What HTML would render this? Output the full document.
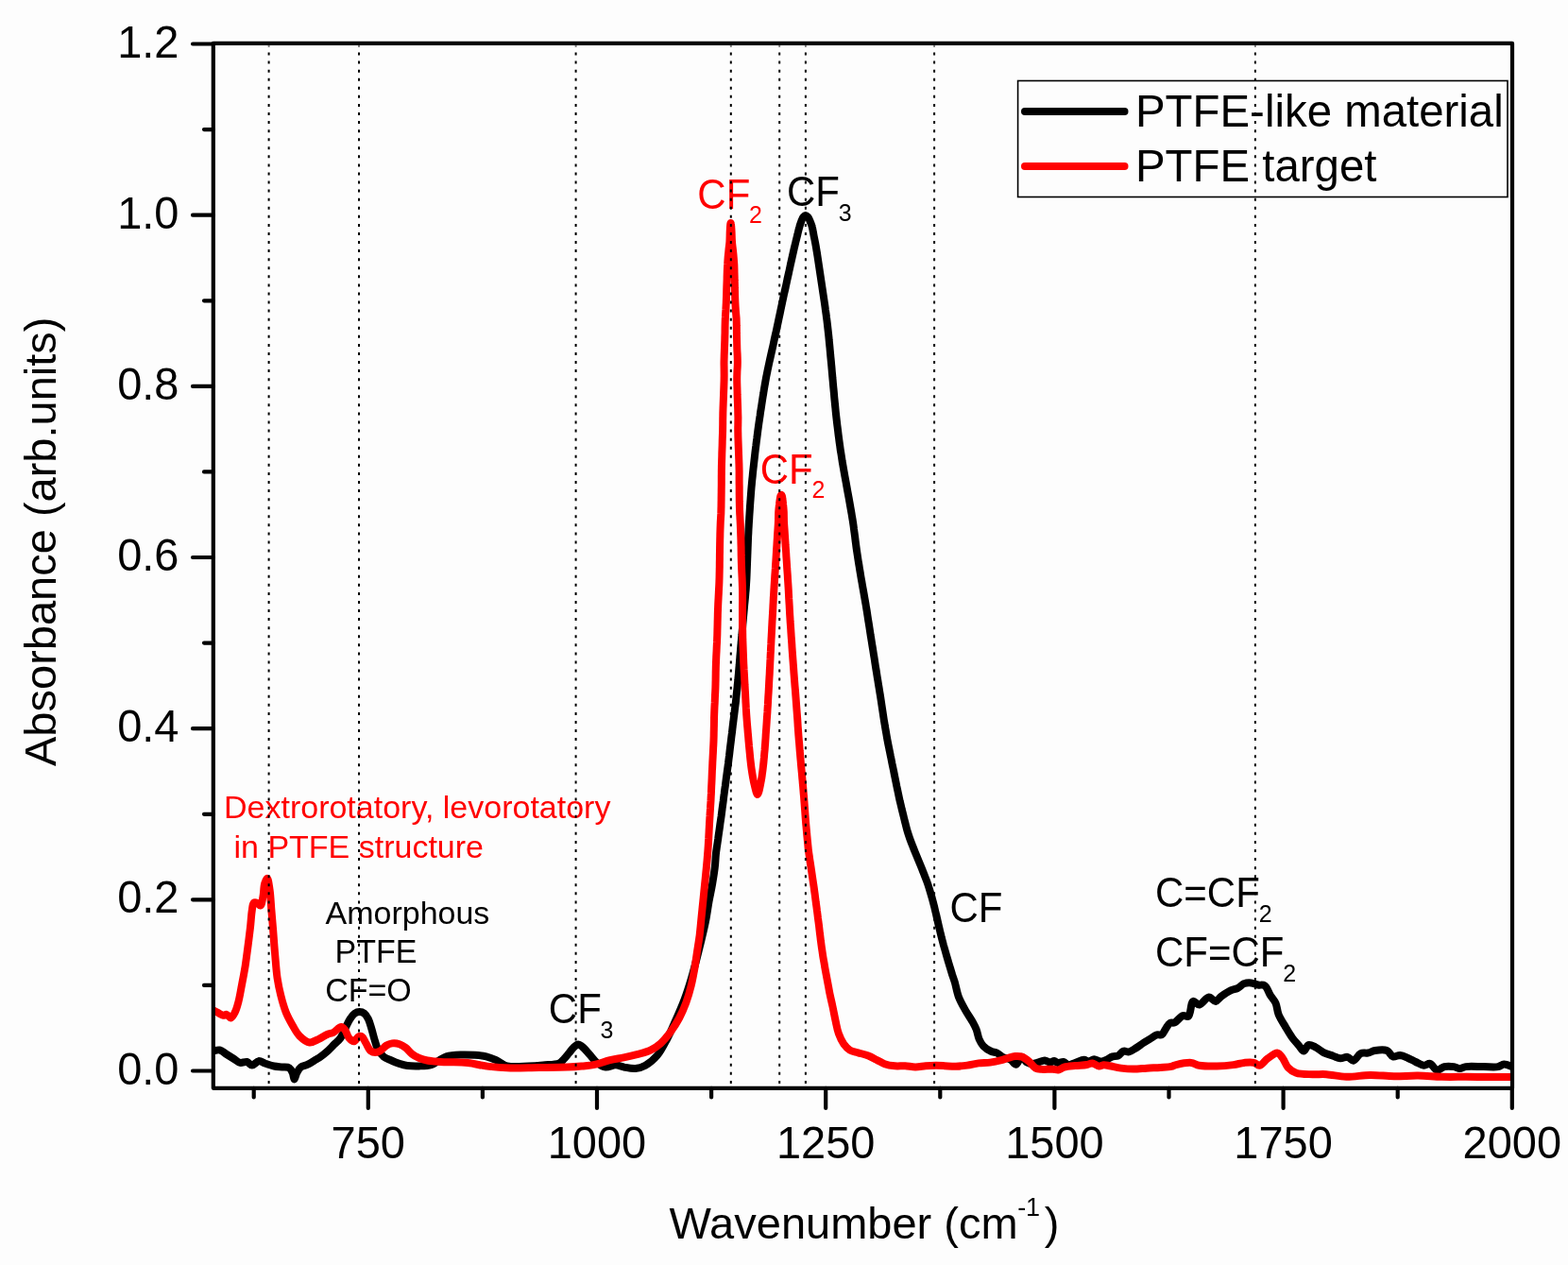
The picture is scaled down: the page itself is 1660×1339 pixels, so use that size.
<!DOCTYPE html>
<html><head><meta charset="utf-8"><title>PTFE FTIR spectrum</title>
<style>html,body{margin:0;padding:0;background:#fdfdfd;}body{width:1660px;height:1339px;overflow:hidden;}svg{display:block;font-family:"Liberation Sans",Arial,sans-serif;}</style></head><body>
<svg width="1660" height="1339" viewBox="0 0 1660 1339">
<rect x="0" y="0" width="1660" height="1339" fill="#fdfdfd"/>
<defs><clipPath id="pc"><rect x="225.8" y="45.9" width="1375.2" height="1105.9"/></clipPath></defs>
<g clip-path="url(#pc)" fill="none" stroke-linejoin="round" stroke-linecap="round" stroke-width="8">
<path stroke="#000" d="M226.0,1112.4 C227.1,1112.2 230.5,1111.0 232.7,1111.5 C235.2,1112.0 237.5,1114.5 239.9,1116.0 C242.3,1117.5 244.7,1119.0 247.1,1120.5 C249.5,1122.0 251.7,1124.4 254.2,1124.9 C256.5,1125.4 259.3,1123.5 261.4,1124.0 C263.4,1124.5 264.9,1127.6 266.8,1127.6 C269.0,1127.6 271.5,1123.4 273.9,1123.1 C276.2,1122.9 278.6,1124.9 281.1,1125.8 C283.9,1126.7 287.1,1127.9 290.1,1128.5 C293.0,1129.1 296.2,1129.1 299.0,1129.4 C301.5,1129.7 304.4,1129.2 306.2,1130.3 C307.9,1131.4 308.9,1133.7 309.8,1135.7 C310.7,1137.8 310.9,1142.5 311.6,1142.5 C312.3,1142.5 313.0,1137.9 314.2,1135.7 C315.4,1133.5 316.7,1130.9 318.7,1129.4 C320.6,1127.9 323.4,1127.9 325.9,1126.7 C328.8,1125.3 332.5,1122.7 334.8,1121.3 C336.3,1120.4 337.0,1120.2 338.4,1119.2 C340.7,1117.6 344.3,1114.7 346.9,1112.4 C349.3,1110.2 351.4,1107.9 353.6,1105.7 C355.9,1103.4 358.5,1101.6 360.4,1098.9 C362.5,1096.0 363.7,1092.2 365.4,1088.8 C367.1,1085.4 368.6,1081.5 370.5,1078.7 C372.0,1076.4 373.6,1074.1 375.5,1072.8 C377.1,1071.7 378.9,1071.1 380.6,1071.1 C382.3,1071.1 384.2,1071.7 385.7,1072.8 C387.4,1074.1 388.7,1076.4 389.9,1078.7 C391.3,1081.5 392.2,1085.3 393.3,1088.8 C394.5,1092.6 395.4,1096.8 396.6,1100.6 C397.7,1104.1 398.4,1107.7 400.0,1110.7 C401.5,1113.6 403.5,1116.3 405.9,1118.3 C408.3,1120.2 411.5,1121.2 414.3,1122.5 C417.1,1123.8 419.9,1125.0 422.8,1125.9 C425.6,1126.8 428.1,1127.6 431.2,1128.0 C435.0,1128.5 439.7,1128.5 443.9,1128.4 C448.1,1128.3 452.8,1128.3 456.5,1127.2 C459.7,1126.2 462.2,1124.0 464.9,1122.5 C467.5,1121.1 469.5,1119.3 472.6,1118.3 C476.7,1117.0 482.7,1116.7 487.7,1116.5 C492.7,1116.3 498.0,1116.5 502.7,1116.8 C507.0,1117.1 511.0,1117.4 514.8,1118.3 C518.5,1119.2 521.8,1120.5 525.3,1122.1 C529.1,1123.8 532.0,1127.1 536.6,1128.3 C542.8,1129.9 552.9,1128.8 559.8,1128.6 C565.4,1128.4 569.8,1128.0 575.0,1127.5 C580.6,1126.9 588.5,1127.1 592.3,1125.3 C594.6,1124.2 595.4,1122.6 597.0,1121.0 C598.8,1119.1 600.7,1116.6 602.5,1114.5 C604.2,1112.5 605.7,1110.1 607.5,1108.5 C609.0,1107.2 610.7,1105.5 612.2,1105.5 C613.7,1105.5 614.9,1106.8 616.5,1108.0 C618.9,1109.9 622.0,1113.9 624.7,1116.8 C627.3,1119.6 629.3,1122.9 632.2,1125.1 C634.9,1127.2 638.1,1129.2 641.3,1129.6 C644.6,1130.0 648.4,1127.2 651.8,1127.3 C654.9,1127.4 657.6,1129.0 660.8,1129.6 C664.5,1130.3 669.0,1131.4 672.8,1131.0 C676.5,1130.7 679.8,1129.6 683.3,1127.7 C687.5,1125.4 692.2,1121.4 695.9,1117.0 C700.1,1112.1 703.3,1105.2 706.6,1099.0 C709.9,1092.7 712.7,1086.0 715.6,1079.3 C718.7,1072.3 721.9,1065.0 724.6,1057.8 C727.3,1050.7 729.6,1043.3 731.7,1036.3 C733.7,1029.6 735.3,1023.3 737.1,1016.6 C738.9,1009.6 740.8,1002.0 742.5,995.0 C744.1,988.3 745.7,982.0 747.0,975.3 C748.4,968.3 749.4,960.6 750.6,953.8 C751.7,947.6 753.1,941.9 754.1,935.9 C755.1,929.9 756.2,923.5 756.8,917.9 C757.4,913.0 757.5,908.0 757.9,904.0 C758.2,901.0 758.6,898.7 759.0,896.0 C759.4,893.3 759.8,890.7 760.2,888.0 C760.5,885.3 760.9,882.7 761.3,880.0 C761.7,877.3 762.1,874.7 762.4,872.0 C762.8,869.3 763.2,866.7 763.6,864.0 C763.9,861.3 764.3,858.7 764.6,856.0 C765.0,853.3 765.3,850.7 765.7,848.0 C766.0,845.3 766.3,842.7 766.7,840.0 C767.0,837.3 767.4,834.7 767.8,832.0 C768.1,829.3 768.5,826.7 768.8,824.0 C769.2,821.3 769.6,818.7 769.9,816.0 C770.3,813.3 770.6,810.7 771.0,808.0 C771.3,805.3 771.6,802.7 772.0,800.0 C772.3,797.3 772.6,794.7 772.9,792.0 C773.2,789.3 773.6,786.7 773.9,784.0 C774.2,781.3 774.5,778.7 774.9,776.0 C775.2,773.3 775.5,770.7 775.8,768.0 C776.2,765.3 776.5,762.7 776.8,760.0 C777.2,757.3 777.5,754.7 777.8,752.0 C778.1,749.3 778.5,746.7 778.8,744.0 C779.1,741.3 779.4,738.7 779.6,736.0 C779.9,733.3 780.2,730.7 780.5,728.0 C780.7,725.3 781.0,722.7 781.3,720.0 C781.5,717.3 781.8,714.7 782.0,712.0 C782.2,709.3 782.4,706.7 782.7,704.0 C782.9,701.3 783.1,698.7 783.3,696.0 C783.5,693.3 783.8,690.7 784.0,688.0 C784.2,685.3 784.4,682.7 784.7,680.0 C784.9,677.3 785.1,674.7 785.4,672.0 C785.6,669.3 785.8,666.7 786.1,664.0 C786.3,661.3 786.5,658.7 786.8,656.0 C787.0,653.3 787.2,650.7 787.5,648.0 C787.7,645.3 788.0,642.7 788.2,640.0 C788.5,637.3 788.7,634.7 789.0,632.0 C789.2,629.3 789.4,626.7 789.7,624.0 C789.9,621.3 790.0,618.7 790.2,616.0 C790.4,613.3 790.5,610.7 790.6,608.0 C790.7,605.3 790.8,602.7 790.9,600.0 C791.0,597.3 791.1,594.7 791.2,592.0 C791.3,589.3 791.4,586.7 791.5,584.0 C791.6,581.3 791.7,578.7 791.8,576.0 C791.9,573.3 792.0,570.7 792.1,568.0 C792.3,565.3 792.4,562.7 792.5,560.0 C792.7,557.3 792.8,554.7 793.0,552.0 C793.2,549.3 793.3,546.7 793.5,544.0 C793.7,541.3 793.9,538.7 794.0,536.0 C794.2,533.3 794.4,530.7 794.6,528.0 C794.8,525.3 795.0,522.7 795.2,520.0 C795.4,517.3 795.6,514.7 795.9,512.0 C796.1,509.3 796.4,506.7 796.7,504.0 C796.9,501.3 797.2,498.7 797.5,496.0 C797.8,493.3 798.1,490.7 798.4,488.0 C798.7,485.3 799.0,482.7 799.3,480.0 C799.6,477.3 799.9,474.7 800.3,472.0 C800.6,469.3 800.9,466.7 801.3,464.0 C801.6,461.3 802.0,458.7 802.3,456.0 C802.7,453.3 803.0,450.7 803.4,448.0 C803.8,445.3 804.2,442.7 804.6,440.0 C804.9,437.3 805.3,434.7 805.8,432.0 C806.2,429.3 806.6,426.7 807.0,424.0 C807.4,421.3 807.8,418.7 808.3,416.0 C808.7,413.3 809.1,410.7 809.6,408.0 C810.1,405.3 810.5,402.7 811.0,400.0 C811.5,397.3 812.1,394.7 812.6,392.0 C813.2,389.3 813.7,386.7 814.3,384.0 C814.9,381.3 815.5,378.7 816.1,376.0 C816.7,373.3 817.3,370.7 817.9,368.0 C818.5,365.3 819.1,362.7 819.6,360.0 C820.2,357.3 820.8,354.7 821.4,352.0 C822.0,349.3 822.6,346.7 823.1,344.0 C823.7,341.3 824.3,338.7 824.8,336.0 C825.4,333.3 826.0,330.7 826.5,328.0 C827.1,325.3 827.6,322.7 828.2,320.0 C828.8,317.3 829.3,314.7 829.9,312.0 C830.5,309.3 831.1,306.7 831.7,304.0 C832.3,301.3 832.9,298.7 833.4,296.0 C834.0,293.3 834.6,290.7 835.2,288.0 C835.8,285.3 836.4,282.7 836.9,280.0 C837.5,277.3 838.1,274.7 838.7,272.0 C839.3,269.3 839.9,266.7 840.5,264.0 C841.1,261.3 841.8,258.7 842.4,256.0 C843.1,253.3 843.7,250.7 844.4,248.0 C845.0,245.3 845.7,242.2 846.4,240.0 C846.8,238.4 847.2,237.3 847.7,236.0 C848.1,234.7 848.6,233.2 849.2,232.0 C849.6,231.0 849.9,230.2 850.6,229.5 C851.2,228.8 852.0,228.0 852.8,228.0 C853.6,228.0 854.5,228.8 855.2,229.5 C855.8,230.2 856.2,231.0 856.7,232.0 C857.2,233.2 857.7,234.7 858.3,236.0 C858.8,237.3 859.3,238.4 859.7,240.0 C860.4,242.2 860.8,245.3 861.3,248.0 C861.8,250.7 862.4,253.3 862.9,256.0 C863.4,258.7 863.9,261.3 864.3,264.0 C864.8,266.7 865.2,269.3 865.6,272.0 C866.0,274.7 866.4,277.3 866.8,280.0 C867.2,282.7 867.6,285.3 868.0,288.0 C868.4,290.7 868.8,293.3 869.2,296.0 C869.6,298.7 870.0,301.3 870.4,304.0 C870.8,306.7 871.2,309.3 871.6,312.0 C872.0,314.7 872.4,317.3 872.8,320.0 C873.2,322.7 873.6,325.3 873.9,328.0 C874.3,330.7 874.7,333.3 875.0,336.0 C875.4,338.7 875.7,341.3 876.0,344.0 C876.3,346.7 876.6,349.3 876.9,352.0 C877.2,354.7 877.5,357.3 877.7,360.0 C878.0,362.7 878.2,365.3 878.5,368.0 C878.7,370.7 879.0,373.3 879.2,376.0 C879.5,378.7 879.7,381.3 880.0,384.0 C880.2,386.7 880.5,389.3 880.7,392.0 C880.9,394.7 881.2,397.3 881.4,400.0 C881.7,402.7 881.9,405.3 882.1,408.0 C882.4,410.7 882.6,413.3 882.9,416.0 C883.1,418.7 883.3,421.3 883.6,424.0 C883.9,426.7 884.1,429.3 884.4,432.0 C884.6,434.7 884.9,437.3 885.2,440.0 C885.5,442.7 885.8,445.3 886.1,448.0 C886.4,450.7 886.8,453.3 887.1,456.0 C887.4,458.7 887.7,461.3 888.1,464.0 C888.4,466.7 888.8,469.3 889.2,472.0 C889.5,474.7 889.9,477.3 890.4,480.0 C890.8,482.7 891.2,485.3 891.6,488.0 C892.1,490.7 892.5,493.3 893.0,496.0 C893.5,498.7 893.9,501.3 894.4,504.0 C894.9,506.7 895.4,509.3 895.9,512.0 C896.4,514.7 896.8,517.3 897.3,520.0 C897.8,522.7 898.3,525.3 898.8,528.0 C899.3,530.7 899.7,533.3 900.2,536.0 C900.7,538.7 901.1,541.3 901.6,544.0 C902.0,546.7 902.5,549.3 902.9,552.0 C903.3,554.7 903.7,557.3 904.0,560.0 C904.4,562.7 904.7,565.3 905.1,568.0 C905.4,570.7 905.7,573.3 906.1,576.0 C906.4,578.7 906.8,581.3 907.2,584.0 C907.6,586.7 908.0,589.3 908.4,592.0 C908.8,594.7 909.3,597.3 909.7,600.0 C910.1,602.7 910.6,605.3 911.0,608.0 C911.4,610.7 911.9,613.3 912.4,616.0 C912.8,618.7 913.3,621.3 913.8,624.0 C914.3,626.7 914.7,629.3 915.2,632.0 C915.7,634.7 916.1,637.3 916.6,640.0 C917.0,642.7 917.5,645.3 917.9,648.0 C918.3,650.7 918.7,653.3 919.1,656.0 C919.6,658.7 920.0,661.3 920.4,664.0 C920.8,666.7 921.2,669.3 921.6,672.0 C922.1,674.7 922.5,677.3 922.9,680.0 C923.3,682.7 923.8,685.3 924.2,688.0 C924.6,690.7 925.0,693.3 925.5,696.0 C925.9,698.7 926.3,701.3 926.7,704.0 C927.1,706.7 927.6,709.3 928.0,712.0 C928.4,714.7 928.8,717.3 929.3,720.0 C929.7,722.7 930.1,725.3 930.6,728.0 C931.0,730.7 931.4,733.3 931.9,736.0 C932.3,738.7 932.7,741.3 933.1,744.0 C933.5,746.7 933.9,749.3 934.3,752.0 C934.7,754.7 935.1,757.3 935.5,760.0 C935.9,762.7 936.4,765.3 936.8,768.0 C937.3,770.7 937.7,773.3 938.2,776.0 C938.6,778.7 939.1,781.3 939.6,784.0 C940.1,786.7 940.6,789.3 941.2,792.0 C941.7,794.7 942.3,797.3 942.8,800.0 C943.4,802.7 943.9,805.3 944.4,808.0 C945.0,810.7 945.5,813.3 946.1,816.0 C946.6,818.7 947.1,821.3 947.7,824.0 C948.2,826.7 948.8,829.3 949.3,832.0 C949.9,834.7 950.4,837.3 951.0,840.0 C951.5,842.7 952.1,845.3 952.7,848.0 C953.4,850.7 954.0,853.3 954.6,856.0 C955.3,858.7 955.9,861.3 956.6,864.0 C957.2,866.7 957.9,869.3 958.6,872.0 C959.3,874.7 959.9,877.3 960.7,880.0 C961.5,882.7 962.4,885.3 963.3,888.0 C964.3,890.7 965.3,893.3 966.4,896.0 C967.4,898.7 968.5,901.3 969.6,904.0 C970.7,906.7 971.8,909.3 972.9,912.0 C974.0,914.7 975.1,917.3 976.2,920.0 C977.2,922.7 978.3,925.3 979.3,928.0 C980.4,930.7 981.4,933.3 982.3,936.0 C983.2,938.7 984.0,941.3 984.8,944.0 C985.6,946.7 986.4,949.3 987.1,952.0 C987.8,954.7 988.5,957.3 989.2,960.0 C989.8,962.7 990.4,965.3 991.1,968.0 C991.7,970.7 992.3,973.3 992.9,976.0 C993.5,978.7 994.1,981.3 994.8,984.0 C995.4,986.7 996.1,989.3 996.7,992.0 C997.4,994.7 998.1,997.3 998.8,1000.0 C999.6,1002.7 1000.3,1005.3 1001.1,1008.0 C1001.8,1010.7 1002.6,1013.3 1003.4,1016.0 C1004.2,1018.7 1004.9,1021.3 1005.8,1024.0 C1006.6,1026.7 1007.4,1029.3 1008.2,1032.0 C1009.1,1034.7 1009.9,1036.9 1010.9,1040.0 C1012.1,1044.2 1013.0,1050.3 1014.9,1055.2 C1016.8,1060.2 1019.7,1065.1 1022.2,1069.6 C1024.5,1073.7 1027.4,1077.6 1029.4,1081.2 C1031.1,1084.3 1032.5,1086.8 1033.7,1089.9 C1034.9,1093.1 1035.3,1097.0 1036.6,1100.0 C1037.8,1102.7 1039.0,1105.1 1041.0,1107.2 C1043.2,1109.5 1046.9,1111.8 1049.6,1113.0 C1051.6,1113.9 1053.5,1113.6 1055.4,1114.5 C1057.4,1115.5 1059.0,1117.6 1061.2,1118.8 C1063.7,1120.1 1067.4,1120.3 1069.9,1121.7 C1072.2,1123.0 1073.9,1126.9 1075.7,1126.7 C1077.7,1126.5 1079.4,1119.0 1081.4,1118.8 C1083.2,1118.7 1085.1,1123.4 1087.2,1124.6 C1089.0,1125.6 1091.1,1126.0 1093.0,1126.0 C1094.9,1126.0 1096.8,1125.2 1098.8,1124.6 C1101.1,1124.0 1103.7,1122.3 1106.0,1122.4 C1108.0,1122.5 1110.0,1124.6 1111.8,1124.6 C1113.3,1124.6 1114.7,1123.0 1116.1,1123.1 C1117.4,1123.2 1118.5,1124.8 1120.0,1125.0 C1121.7,1125.2 1124.0,1123.6 1125.8,1123.9 C1127.6,1124.2 1128.9,1126.8 1130.8,1127.1 C1132.9,1127.4 1135.5,1125.8 1138.1,1125.0 C1141.0,1124.1 1144.9,1121.7 1147.5,1121.7 C1149.4,1121.7 1150.8,1123.5 1152.5,1123.5 C1154.4,1123.5 1156.3,1121.3 1158.3,1121.3 C1160.4,1121.3 1162.7,1123.4 1164.8,1123.5 C1166.8,1123.6 1168.6,1122.8 1170.6,1122.1 C1172.9,1121.2 1175.5,1119.1 1177.8,1118.4 C1179.8,1117.8 1181.8,1118.5 1183.6,1117.7 C1185.7,1116.8 1187.3,1113.3 1189.4,1112.7 C1191.2,1112.1 1193.2,1113.8 1195.2,1113.4 C1197.7,1112.9 1200.6,1110.6 1203.2,1109.0 C1205.7,1107.4 1208.0,1105.6 1210.4,1104.0 C1212.8,1102.4 1215.2,1101.1 1217.6,1099.6 C1220.0,1098.2 1222.5,1095.9 1224.8,1095.3 C1226.6,1094.8 1228.4,1096.1 1229.9,1095.3 C1231.7,1094.3 1232.7,1090.9 1234.2,1088.8 C1235.6,1086.8 1236.8,1084.0 1238.6,1083.0 C1240.1,1082.1 1241.8,1083.1 1243.6,1082.3 C1246.3,1081.1 1249.5,1075.9 1252.3,1075.1 C1254.3,1074.5 1256.5,1076.8 1258.1,1075.8 C1260.8,1074.1 1260.5,1060.9 1263.1,1059.9 C1264.8,1059.2 1267.3,1063.7 1269.6,1063.5 C1272.7,1063.3 1276.6,1055.7 1279.8,1055.5 C1282.4,1055.4 1284.8,1060.1 1287.0,1059.9 C1289.1,1059.7 1290.5,1056.5 1292.8,1054.8 C1295.6,1052.7 1299.7,1049.8 1302.9,1048.3 C1305.4,1047.1 1307.8,1047.2 1310.1,1046.1 C1312.6,1044.9 1314.8,1042.0 1317.3,1041.1 C1319.6,1040.2 1322.2,1040.2 1324.6,1040.4 C1327.0,1040.6 1329.4,1042.0 1331.8,1042.5 C1334.2,1043.0 1337.0,1042.0 1339.0,1043.3 C1341.6,1045.0 1342.8,1050.2 1344.8,1053.4 C1346.7,1056.4 1349.2,1058.8 1350.6,1062.0 C1352.1,1065.5 1352.0,1069.7 1353.5,1073.6 C1355.2,1077.9 1358.2,1082.4 1360.7,1086.6 C1363.1,1090.6 1365.4,1094.7 1367.9,1098.2 C1370.2,1101.4 1373.0,1104.3 1375.2,1106.9 C1377.0,1109.0 1378.6,1112.6 1380.2,1112.6 C1381.9,1112.6 1383.2,1106.8 1385.3,1106.1 C1387.3,1105.5 1390.1,1107.2 1392.5,1108.3 C1395.4,1109.7 1398.1,1112.5 1401.2,1114.1 C1404.4,1115.7 1408.2,1116.6 1411.3,1117.7 C1414.0,1118.6 1416.4,1120.0 1419.0,1120.2 C1421.5,1120.4 1424.3,1118.5 1426.6,1118.9 C1428.9,1119.3 1430.8,1123.0 1432.9,1122.7 C1435.4,1122.4 1437.7,1116.4 1440.5,1115.1 C1442.9,1114.0 1445.6,1115.0 1448.1,1114.5 C1450.7,1114.0 1452.8,1112.5 1455.7,1112.0 C1459.3,1111.4 1465.0,1110.6 1468.3,1112.0 C1471.1,1113.1 1472.2,1117.5 1474.6,1118.3 C1476.9,1119.0 1479.6,1116.8 1482.2,1117.0 C1485.1,1117.3 1488.3,1119.0 1491.1,1120.2 C1493.8,1121.3 1496.1,1122.8 1498.7,1124.0 C1501.5,1125.3 1504.8,1127.6 1507.5,1127.8 C1509.8,1127.9 1511.8,1125.4 1513.9,1125.9 C1516.5,1126.5 1518.8,1132.5 1521.4,1132.9 C1523.8,1133.2 1526.2,1129.8 1529.0,1129.1 C1532.1,1128.4 1536.2,1128.7 1539.2,1129.1 C1541.6,1129.5 1543.4,1131.0 1545.5,1131.0 C1547.6,1131.0 1549.1,1129.5 1551.8,1129.1 C1556.4,1128.4 1564.8,1129.1 1570.8,1129.1 C1576.1,1129.1 1582.1,1129.9 1586.0,1129.1 C1588.6,1128.6 1590.0,1126.6 1592.3,1126.5 C1594.9,1126.4 1599.6,1128.7 1601.0,1129.1"/>
<path stroke="#f00" d="M226.0,1069.4 C226.8,1069.9 229.3,1071.2 231.0,1072.1 C232.7,1073.0 234.7,1074.6 236.3,1074.8 C237.6,1074.9 238.7,1073.6 239.9,1073.9 C241.4,1074.2 243.0,1077.7 244.4,1077.5 C246.0,1077.3 247.6,1073.7 248.9,1071.2 C250.4,1068.2 251.3,1064.6 252.4,1060.5 C253.8,1055.3 254.8,1048.6 256.0,1042.5 C257.2,1036.1 258.5,1029.4 259.6,1022.8 C260.6,1016.2 261.4,1009.8 262.3,1003.1 C263.2,996.1 264.2,988.4 265.0,981.6 C265.7,975.4 266.0,968.5 266.8,963.7 C267.3,960.5 267.3,956.8 268.6,955.7 C269.5,955.0 271.1,955.3 272.2,955.7 C273.5,956.1 274.8,958.7 275.7,958.4 C277.1,958.0 277.7,952.8 278.4,949.4 C279.3,945.2 279.1,938.7 280.2,935.1 C280.9,932.8 282.1,929.6 282.9,929.7 C284.0,929.8 284.9,937.4 285.6,942.2 C286.5,948.4 286.8,956.5 287.4,963.7 C288.0,970.9 288.6,977.9 289.2,985.2 C289.8,992.8 290.3,1000.5 291.0,1008.5 C291.8,1017.1 292.4,1027.4 293.6,1035.4 C294.6,1042.0 295.7,1047.4 297.2,1053.3 C298.7,1059.3 300.4,1065.7 302.6,1071.2 C304.6,1076.3 307.3,1081.1 309.8,1085.5 C312.1,1089.4 313.9,1093.3 316.9,1096.3 C319.9,1099.3 324.1,1103.0 327.7,1103.4 C331.0,1103.8 334.3,1101.2 337.5,1099.8 C340.7,1098.3 344.1,1095.9 346.9,1094.7 C349.0,1093.8 350.7,1094.0 352.8,1093.0 C355.5,1091.7 358.9,1087.0 361.2,1087.1 C362.9,1087.2 364.1,1088.9 365.4,1090.5 C367.1,1092.6 367.8,1096.9 369.6,1098.9 C371.0,1100.5 373.1,1102.5 374.7,1102.3 C376.5,1102.1 378.1,1097.9 379.8,1097.2 C380.9,1096.7 382.1,1096.6 383.1,1097.2 C384.7,1098.1 385.8,1101.6 387.3,1104.0 C388.9,1106.6 390.4,1110.8 392.4,1112.4 C393.9,1113.6 395.8,1114.1 397.5,1114.1 C399.2,1114.1 400.8,1113.4 402.5,1112.4 C404.7,1111.1 407.0,1107.9 409.3,1106.5 C411.2,1105.4 413.1,1104.7 415.2,1104.4 C417.5,1104.1 420.4,1104.4 422.8,1105.2 C425.2,1106.0 427.4,1107.4 429.5,1109.0 C431.9,1110.8 433.8,1113.9 436.3,1115.8 C438.6,1117.6 441.2,1118.9 443.9,1120.0 C446.6,1121.1 449.5,1121.9 452.3,1122.5 C455.1,1123.1 457.8,1123.1 460.7,1123.4 C463.7,1123.7 466.8,1124.0 470.0,1124.2 C473.3,1124.4 476.4,1124.2 480.1,1124.3 C484.6,1124.4 489.7,1124.5 495.2,1125.1 C502.0,1125.8 510.2,1128.0 517.8,1128.9 C525.3,1129.8 532.3,1130.2 540.4,1130.4 C549.7,1130.6 560.5,1130.1 570.5,1130.0 C580.5,1129.9 592.3,1129.9 600.6,1129.6 C606.5,1129.4 610.7,1129.1 615.7,1128.6 C620.7,1128.1 625.7,1127.7 630.7,1126.6 C635.8,1125.5 640.8,1123.3 645.8,1122.1 C650.7,1120.9 655.6,1120.4 660.4,1119.4 C665.1,1118.4 669.6,1117.4 674.3,1116.1 C679.1,1114.8 684.4,1113.7 688.7,1111.6 C692.7,1109.7 696.0,1107.4 699.4,1104.4 C703.2,1101.0 706.9,1096.3 710.2,1091.9 C713.5,1087.4 716.5,1082.5 719.2,1077.5 C721.9,1072.4 724.2,1067.0 726.3,1061.4 C728.4,1055.6 730.2,1049.4 731.7,1043.4 C733.2,1037.5 734.2,1031.5 735.3,1025.5 C736.3,1019.5 737.1,1013.6 738.0,1007.6 C738.9,1001.6 739.9,995.7 740.7,989.7 C741.4,983.7 741.9,977.7 742.5,971.7 C743.1,965.7 743.7,959.8 744.3,953.8 C744.9,947.8 745.5,941.9 746.1,935.9 C746.7,929.9 747.4,923.5 747.9,917.9 C748.4,913.0 748.8,908.0 749.1,904.0 C749.4,901.0 749.5,898.7 749.7,896.0 C749.9,893.3 750.0,890.7 750.2,888.0 C750.3,885.3 750.5,882.7 750.6,880.0 C750.7,877.3 750.9,874.7 751.0,872.0 C751.2,869.3 751.3,866.7 751.5,864.0 C751.6,861.3 751.8,858.7 752.0,856.0 C752.1,853.3 752.3,850.7 752.5,848.0 C752.6,845.3 752.7,842.7 752.9,840.0 C753.0,837.3 753.1,834.7 753.2,832.0 C753.4,829.3 753.5,826.7 753.6,824.0 C753.7,821.3 753.8,818.7 753.9,816.0 C754.1,813.3 754.2,810.7 754.3,808.0 C754.4,805.3 754.6,802.7 754.7,800.0 C754.9,797.3 755.0,794.7 755.1,792.0 C755.3,789.3 755.4,786.7 755.5,784.0 C755.6,781.3 755.7,778.7 755.7,776.0 C755.8,773.3 755.8,770.7 755.9,768.0 C755.9,765.3 756.0,762.7 756.0,760.0 C756.1,757.3 756.2,754.7 756.3,752.0 C756.4,749.3 756.5,746.7 756.7,744.0 C756.8,741.3 756.9,738.7 757.0,736.0 C757.2,733.3 757.3,730.7 757.4,728.0 C757.5,725.3 757.5,722.7 757.6,720.0 C757.6,717.3 757.7,714.7 757.7,712.0 C757.8,709.3 757.8,706.7 757.9,704.0 C758.0,701.3 758.1,698.7 758.2,696.0 C758.3,693.3 758.5,690.7 758.6,688.0 C758.7,685.3 758.8,682.7 759.0,680.0 C759.1,677.3 759.2,674.7 759.3,672.0 C759.4,669.3 759.4,666.7 759.5,664.0 C759.6,661.3 759.6,658.7 759.7,656.0 C759.8,653.3 759.8,650.7 759.9,648.0 C760.0,645.3 760.1,642.7 760.2,640.0 C760.3,637.3 760.5,634.7 760.6,632.0 C760.8,629.3 760.9,626.7 761.0,624.0 C761.2,621.3 761.3,618.7 761.4,616.0 C761.5,613.3 761.6,610.7 761.6,608.0 C761.7,605.3 761.7,602.7 761.8,600.0 C761.8,597.3 761.8,594.7 761.9,592.0 C761.9,589.3 761.9,586.7 762.0,584.0 C762.0,581.3 762.1,578.7 762.1,576.0 C762.2,573.3 762.2,570.7 762.3,568.0 C762.3,565.3 762.4,562.7 762.5,560.0 C762.6,557.3 762.7,554.7 762.8,552.0 C763.0,549.3 763.1,546.7 763.3,544.0 C763.4,541.3 763.4,538.7 763.5,536.0 C763.5,533.3 763.6,530.7 763.6,528.0 C763.6,525.3 763.7,522.7 763.7,520.0 C763.7,517.3 763.8,514.7 763.8,512.0 C763.8,509.3 763.8,506.7 763.8,504.0 C763.9,501.3 763.8,498.7 763.9,496.0 C763.9,493.3 764.0,490.7 764.1,488.0 C764.2,485.3 764.3,482.7 764.3,480.0 C764.4,477.3 764.5,474.7 764.6,472.0 C764.7,469.3 764.7,466.7 764.8,464.0 C764.9,461.3 765.0,458.7 765.1,456.0 C765.1,453.3 765.2,450.7 765.2,448.0 C765.2,445.3 765.2,442.7 765.3,440.0 C765.3,437.3 765.4,434.7 765.5,432.0 C765.6,429.3 765.7,426.7 765.8,424.0 C765.9,421.3 766.0,418.7 766.1,416.0 C766.2,413.3 766.3,410.7 766.4,408.0 C766.5,405.3 766.6,402.7 766.6,400.0 C766.7,397.3 766.6,394.7 766.6,392.0 C766.6,389.3 766.5,386.7 766.5,384.0 C766.5,381.3 766.7,378.7 766.7,376.0 C766.8,373.3 766.9,370.7 767.0,368.0 C767.1,365.3 767.2,362.7 767.3,360.0 C767.3,357.3 767.4,354.7 767.5,352.0 C767.5,349.3 767.5,346.7 767.6,344.0 C767.7,341.3 767.7,338.7 767.9,336.0 C768.0,333.3 768.2,330.7 768.4,328.0 C768.5,325.3 768.7,322.7 768.8,320.0 C768.9,317.3 769.0,314.7 769.1,312.0 C769.2,309.3 769.2,306.7 769.3,304.0 C769.4,301.3 769.5,298.7 769.6,296.0 C769.6,293.3 769.7,290.7 769.8,288.0 C769.9,285.3 770.0,282.7 770.2,280.0 C770.3,277.3 770.5,274.7 770.7,272.0 C771.0,269.3 771.3,266.7 771.5,264.0 C771.8,261.3 772.2,258.8 772.4,256.0 C772.6,252.9 772.6,248.9 772.7,246.0 C772.8,243.7 772.9,241.7 773.0,240.0 C773.1,238.8 773.2,237.7 773.3,237.0 C773.4,236.6 773.5,236.0 773.6,236.0 C773.7,236.0 773.8,236.6 773.9,237.0 C774.1,237.7 774.1,238.8 774.2,240.0 C774.4,241.7 774.5,243.7 774.6,246.0 C774.7,248.9 774.8,252.8 775.0,256.0 C775.2,258.8 775.6,261.4 775.9,264.1 C776.2,266.8 776.5,269.5 776.7,272.2 C776.9,274.9 777.1,277.6 777.3,280.3 C777.4,282.9 777.5,285.6 777.5,288.3 C777.6,291.0 777.7,293.7 777.7,296.4 C777.8,299.1 777.9,301.8 777.9,304.5 C778.0,307.2 778.0,309.9 778.1,312.6 C778.2,315.3 778.2,318.0 778.4,320.7 C778.5,323.4 778.7,326.1 778.9,328.8 C779.1,331.5 779.4,334.1 779.6,336.8 C779.7,339.5 779.8,342.2 779.8,344.9 C779.9,347.6 779.9,350.3 779.9,353.0 C780.0,355.7 780.0,358.4 780.1,361.1 C780.2,363.8 780.2,366.5 780.3,369.2 C780.4,371.9 780.6,374.6 780.7,377.3 C780.8,380.0 780.9,382.7 780.8,385.4 C780.8,388.0 780.5,390.7 780.4,393.4 C780.3,396.1 780.2,398.8 780.2,401.5 C780.2,404.2 780.3,406.9 780.4,409.6 C780.5,412.3 780.6,415.0 780.6,417.7 C780.7,420.4 780.8,423.1 780.9,425.8 C781.0,428.5 781.1,431.2 781.2,433.9 C781.2,436.6 781.3,439.2 781.4,441.9 C781.4,444.6 781.3,447.3 781.3,450.0 C781.2,452.7 781.2,455.4 781.3,458.1 C781.3,460.8 781.4,463.5 781.5,466.2 C781.6,468.9 781.7,471.6 781.8,474.3 C781.9,477.0 782.0,479.7 782.1,482.4 C782.2,485.1 782.3,487.8 782.4,490.5 C782.5,493.1 782.5,495.8 782.6,498.5 C782.6,501.2 782.6,503.9 782.6,506.6 C782.6,509.3 782.6,512.0 782.7,514.7 C782.7,517.4 782.7,520.1 782.7,522.8 C782.8,525.5 782.8,528.2 782.8,530.9 C782.9,533.6 782.9,536.3 783.0,539.0 C783.1,541.7 783.2,544.3 783.4,547.0 C783.5,549.7 783.7,552.4 783.8,555.1 C783.9,557.8 784.0,560.5 784.1,563.2 C784.2,565.9 784.3,568.6 784.4,571.3 C784.4,574.0 784.5,576.7 784.6,579.4 C784.6,582.1 784.7,584.8 784.7,587.5 C784.8,590.2 784.8,592.9 784.9,595.5 C785.0,598.2 785.1,600.9 785.2,603.6 C785.3,606.3 785.5,609.0 785.6,611.7 C785.7,614.4 785.8,617.1 785.9,619.8 C786.0,622.5 786.1,625.2 786.1,627.9 C786.1,630.6 786.1,633.3 786.1,636.0 C786.1,638.7 786.0,641.4 786.0,644.1 C786.0,646.8 786.0,649.4 786.0,652.1 C786.0,654.8 786.0,657.5 786.0,660.2 C786.1,662.9 786.1,665.6 786.2,668.3 C786.2,671.0 786.3,673.7 786.3,676.4 C786.4,679.1 786.5,681.8 786.6,684.5 C786.7,687.2 786.8,689.9 786.9,692.6 C787.0,695.3 787.1,698.0 787.2,700.6 C787.3,703.3 787.5,706.0 787.6,708.7 C787.8,711.4 787.9,714.1 788.1,716.8 C788.2,719.5 788.4,722.2 788.5,724.9 C788.7,727.6 788.8,730.3 789.0,733.0 C789.1,735.7 789.2,738.4 789.4,741.1 C789.5,743.8 789.7,746.5 789.8,749.2 C790.0,751.9 790.1,754.5 790.3,757.2 C790.5,759.9 790.7,762.6 790.9,765.3 C791.1,768.0 791.4,770.7 791.6,773.4 C791.8,776.1 792.1,778.8 792.3,781.5 C792.5,784.2 792.8,786.9 793.0,789.6 C793.3,792.3 793.5,795.0 793.8,797.7 C794.0,800.4 794.3,803.1 794.6,805.7 C794.9,808.4 795.2,811.1 795.6,813.8 C796.0,816.5 796.4,819.2 796.9,821.9 C797.4,824.6 797.7,827.1 798.5,830.0 C799.4,833.4 800.9,841.0 802.0,841.0 C803.3,841.0 805.0,830.2 805.9,826.0 C806.5,822.9 806.7,820.6 807.1,818.0 C807.5,815.3 807.8,812.6 808.1,809.9 C808.4,807.3 808.6,804.6 808.9,801.9 C809.1,799.2 809.3,796.6 809.6,793.9 C809.8,791.2 810.0,788.5 810.2,785.9 C810.4,783.2 810.6,780.5 810.7,777.8 C810.9,775.1 811.1,772.5 811.3,769.8 C811.5,767.1 811.7,764.4 811.8,761.8 C812.0,759.1 812.2,756.4 812.4,753.7 C812.5,751.1 812.7,748.4 812.9,745.7 C813.0,743.0 813.2,740.4 813.3,737.7 C813.5,735.0 813.7,732.3 813.8,729.6 C814.0,727.0 814.1,724.3 814.2,721.6 C814.4,718.9 814.5,716.3 814.7,713.6 C814.8,710.9 814.9,708.2 815.1,705.6 C815.2,702.9 815.3,700.2 815.5,697.5 C815.6,694.9 815.7,692.2 815.9,689.5 C816.0,686.8 816.1,684.1 816.3,681.5 C816.4,678.8 816.5,676.1 816.7,673.4 C816.8,670.8 817.0,668.1 817.1,665.4 C817.2,662.7 817.4,660.1 817.5,657.4 C817.7,654.7 817.8,652.0 818.0,649.4 C818.1,646.7 818.3,644.0 818.4,641.3 C818.6,638.6 818.7,636.0 818.8,633.3 C819.0,630.6 819.2,627.9 819.3,625.3 C819.5,622.6 819.6,619.9 819.8,617.2 C820.0,614.6 820.2,611.9 820.3,609.2 C820.5,606.5 820.7,603.9 820.9,601.2 C821.0,598.5 821.2,595.8 821.4,593.1 C821.6,590.5 821.7,587.8 821.9,585.1 C822.0,582.4 822.2,579.8 822.4,577.1 C822.5,574.4 822.7,571.7 822.9,569.1 C823.0,566.4 823.2,563.7 823.4,561.0 C823.6,558.4 823.8,555.9 823.9,553.0 C824.1,549.6 824.0,545.4 824.2,542.0 C824.4,539.1 824.7,536.5 825.0,534.0 C825.2,531.9 825.5,529.7 825.8,528.0 C826.0,526.8 826.1,525.8 826.4,525.0 C826.6,524.5 827.0,523.7 827.2,523.7 C827.4,523.7 827.7,524.5 827.9,525.0 C828.2,525.8 828.3,526.8 828.4,528.0 C828.7,529.7 828.9,531.9 829.1,534.0 C829.4,536.5 829.6,539.1 829.8,542.0 C829.9,545.4 829.9,549.6 830.0,553.0 C830.2,555.9 830.4,558.4 830.6,561.0 C830.8,563.7 830.9,566.4 831.1,569.1 C831.3,571.8 831.5,574.5 831.6,577.1 C831.8,579.8 832.0,582.5 832.2,585.2 C832.3,587.9 832.5,590.6 832.7,593.2 C832.9,595.9 833.1,598.6 833.2,601.3 C833.4,604.0 833.6,606.7 833.8,609.3 C833.9,612.0 834.1,614.7 834.3,617.4 C834.5,620.1 834.6,622.8 834.8,625.4 C834.9,628.1 835.1,630.8 835.2,633.5 C835.4,636.2 835.5,638.8 835.7,641.5 C835.8,644.2 836.0,646.9 836.1,649.6 C836.3,652.3 836.5,654.9 836.6,657.6 C836.8,660.3 837.0,663.0 837.2,665.7 C837.4,668.4 837.5,671.0 837.7,673.7 C837.9,676.4 838.1,679.1 838.3,681.8 C838.4,684.5 838.6,687.1 838.8,689.8 C839.0,692.5 839.2,695.2 839.4,697.9 C839.6,700.6 839.8,703.2 840.0,705.9 C840.2,708.6 840.4,711.3 840.6,714.0 C840.8,716.7 841.0,719.3 841.2,722.0 C841.4,724.7 841.6,727.4 841.9,730.1 C842.1,732.7 842.3,735.4 842.5,738.1 C842.7,740.8 842.9,743.5 843.1,746.2 C843.3,748.8 843.5,751.5 843.7,754.2 C843.9,756.9 844.1,759.6 844.3,762.3 C844.5,764.9 844.6,767.6 844.8,770.3 C845.0,773.0 845.2,775.7 845.4,778.4 C845.6,781.0 845.8,783.7 846.1,786.4 C846.3,789.1 846.5,791.8 846.7,794.5 C847.0,797.1 847.2,799.8 847.4,802.5 C847.7,805.2 847.9,807.9 848.1,810.5 C848.4,813.2 848.6,815.9 848.9,818.6 C849.1,821.3 849.3,824.0 849.6,826.6 C849.8,829.3 850.1,832.0 850.3,834.7 C850.5,837.4 850.7,840.1 851.0,842.7 C851.2,845.4 851.4,848.1 851.6,850.8 C851.8,853.5 852.0,856.2 852.2,858.8 C852.4,861.5 852.6,864.2 852.8,866.9 C853.0,869.6 853.2,872.3 853.5,874.9 C853.7,877.6 854.0,880.3 854.2,883.0 C854.5,885.7 854.7,888.4 855.0,891.0 C855.3,893.7 855.5,896.4 855.8,899.1 C856.1,901.8 856.5,904.4 856.9,907.1 C857.2,909.8 857.7,912.5 858.1,915.2 C858.5,917.9 858.9,920.5 859.3,923.2 C859.7,925.9 860.1,928.6 860.5,931.3 C860.9,934.0 861.3,936.6 861.7,939.3 C862.0,942.0 862.4,944.7 862.8,947.4 C863.1,950.1 863.5,952.7 863.8,955.4 C864.2,958.1 864.6,960.8 864.9,963.5 C865.3,966.2 865.6,968.8 865.9,971.5 C866.3,974.2 866.6,976.9 867.0,979.6 C867.3,982.2 867.6,984.9 867.9,987.6 C868.3,990.3 868.6,993.0 868.9,995.7 C869.3,998.3 869.6,1001.0 870.0,1003.7 C870.4,1006.4 870.8,1009.1 871.2,1011.8 C871.6,1014.4 872.1,1017.1 872.6,1019.8 C873.0,1022.5 873.5,1025.2 874.0,1027.9 C874.5,1030.5 875.0,1033.2 875.5,1035.9 C876.0,1038.6 876.5,1041.3 877.0,1044.0 C877.5,1046.6 877.9,1049.0 878.5,1052.0 C879.3,1055.8 880.4,1060.4 881.4,1065.0 C882.5,1070.1 883.6,1076.1 884.7,1081.2 C885.7,1085.8 886.4,1090.1 887.9,1094.2 C889.3,1098.1 891.1,1102.1 893.3,1105.1 C895.2,1107.7 897.3,1110.1 899.8,1111.6 C902.3,1113.1 905.4,1113.4 908.5,1114.3 C911.9,1115.3 915.9,1116.2 919.3,1117.5 C922.4,1118.7 925.1,1120.3 928.0,1121.8 C930.9,1123.2 933.5,1125.1 936.6,1126.2 C939.9,1127.4 943.9,1128.0 947.5,1128.3 C951.1,1128.6 954.7,1128.1 958.3,1128.3 C961.9,1128.5 965.5,1129.4 969.1,1129.4 C972.7,1129.4 976.4,1128.6 980.0,1128.3 C983.6,1128.0 987.3,1127.8 990.8,1127.8 C994.0,1127.8 996.7,1128.0 1000.0,1128.2 C1003.7,1128.4 1008.0,1128.9 1012.0,1128.8 C1016.0,1128.7 1020.1,1128.2 1024.1,1127.6 C1028.1,1127.0 1032.1,1125.9 1036.1,1125.4 C1040.1,1124.9 1044.2,1125.1 1048.2,1124.6 C1052.2,1124.1 1056.7,1123.1 1060.2,1122.2 C1063.0,1121.5 1065.1,1120.5 1067.5,1119.8 C1069.9,1119.1 1072.3,1118.2 1074.7,1118.0 C1077.1,1117.8 1079.6,1117.8 1081.9,1118.6 C1084.4,1119.5 1086.9,1121.5 1089.2,1123.4 C1091.7,1125.5 1093.9,1129.3 1096.4,1130.6 C1098.3,1131.6 1100.0,1131.6 1102.4,1131.8 C1105.7,1132.1 1111.2,1131.6 1114.5,1131.8 C1116.9,1131.9 1118.5,1132.8 1120.5,1132.5 C1122.6,1132.2 1124.1,1130.3 1126.5,1129.6 C1129.8,1128.6 1134.6,1128.4 1138.6,1128.0 C1142.6,1127.6 1147.3,1127.6 1150.6,1127.0 C1153.0,1126.6 1154.6,1125.2 1156.6,1125.4 C1158.8,1125.6 1161.2,1128.4 1163.4,1128.6 C1165.2,1128.8 1166.9,1127.3 1168.7,1127.2 C1170.6,1127.1 1172.4,1127.8 1174.7,1128.2 C1178.0,1128.8 1182.6,1130.0 1186.7,1130.6 C1191.0,1131.2 1195.5,1131.6 1200.0,1131.6 C1204.6,1131.6 1209.3,1131.0 1214.0,1130.7 C1218.8,1130.4 1224.0,1130.3 1228.5,1130.0 C1232.6,1129.7 1237.0,1129.6 1240.0,1128.9 C1242.1,1128.4 1242.9,1127.6 1245.1,1127.1 C1248.9,1126.2 1256.5,1124.5 1261.0,1124.9 C1264.3,1125.2 1266.1,1127.2 1269.6,1127.8 C1274.6,1128.7 1282.3,1128.6 1288.4,1128.5 C1294.3,1128.4 1300.6,1127.8 1305.8,1127.1 C1310.0,1126.5 1313.6,1125.3 1317.3,1124.9 C1320.8,1124.6 1324.7,1124.2 1327.5,1124.9 C1329.8,1125.4 1331.2,1128.0 1333.2,1127.8 C1335.9,1127.5 1338.8,1122.8 1341.9,1120.6 C1345.2,1118.3 1349.7,1114.2 1352.5,1114.6 C1354.7,1114.9 1356.1,1117.7 1357.8,1119.9 C1359.9,1122.6 1361.1,1127.3 1363.6,1130.0 C1366.0,1132.5 1368.7,1134.6 1372.3,1135.8 C1376.9,1137.4 1384.1,1137.0 1389.6,1137.2 C1394.6,1137.4 1398.8,1136.9 1404.1,1137.2 C1410.5,1137.6 1417.9,1139.6 1425.3,1139.8 C1433.4,1140.0 1442.2,1138.0 1450.6,1137.9 C1459.0,1137.8 1467.5,1139.1 1475.9,1139.2 C1484.3,1139.3 1492.8,1138.5 1501.2,1138.6 C1509.6,1138.7 1518.1,1139.6 1526.5,1139.8 C1534.9,1140.0 1543.4,1139.8 1551.8,1139.8 C1560.2,1139.8 1568.8,1140.1 1577.1,1140.1 C1585.2,1140.1 1597.0,1140.1 1601.0,1140.1"/>
</g>
<rect x="225.8" y="45.9" width="1375.2" height="1105.9" fill="none" stroke="#000" stroke-width="4.2" stroke-linejoin="round"/>
<path d="M204,1133.5H225.8 M204,952.3H225.8 M204,771.2H225.8 M204,590.0H225.8 M204,408.9H225.8 M204,227.7H225.8 M204,46.5H225.8 M216,1042.9H225.8 M216,861.8H225.8 M216,680.6H225.8 M216,499.4H225.8 M216,318.3H225.8 M216,137.1H225.8 M389.8,1151.8V1173 M632.0,1151.8V1173 M874.2,1151.8V1173 M1116.4,1151.8V1173 M1358.6,1151.8V1173 M1600.8,1151.8V1173 M268.7,1151.8V1161.5 M510.9,1151.8V1161.5 M753.1,1151.8V1161.5 M995.3,1151.8V1161.5 M1237.5,1151.8V1161.5 M1479.7,1151.8V1161.5" stroke="#000" stroke-width="4.2" stroke-linecap="round" fill="none"/>
<text transform="translate(189.5,1147.5) scale(1,1.035)" font-size="47" fill="#000" text-anchor="end">0.0</text>
<text transform="translate(189.5,966.3) scale(1,1.035)" font-size="47" fill="#000" text-anchor="end">0.2</text>
<text transform="translate(189.5,785.2) scale(1,1.035)" font-size="47" fill="#000" text-anchor="end">0.4</text>
<text transform="translate(189.5,604.0) scale(1,1.035)" font-size="47" fill="#000" text-anchor="end">0.6</text>
<text transform="translate(189.5,422.9) scale(1,1.035)" font-size="47" fill="#000" text-anchor="end">0.8</text>
<text transform="translate(189.5,241.7) scale(1,1.035)" font-size="47" fill="#000" text-anchor="end">1.0</text>
<text transform="translate(189.5,60.5) scale(1,1.035)" font-size="47" fill="#000" text-anchor="end">1.2</text>
<text transform="translate(389.8,1226.0) scale(1,1.035)" font-size="47" fill="#000" text-anchor="middle">750</text>
<text transform="translate(632.0,1226.0) scale(1,1.035)" font-size="47" fill="#000" text-anchor="middle">1000</text>
<text transform="translate(874.2,1226.0) scale(1,1.035)" font-size="47" fill="#000" text-anchor="middle">1250</text>
<text transform="translate(1116.4,1226.0) scale(1,1.035)" font-size="47" fill="#000" text-anchor="middle">1500</text>
<text transform="translate(1358.6,1226.0) scale(1,1.035)" font-size="47" fill="#000" text-anchor="middle">1750</text>
<text transform="translate(1600.8,1226.0) scale(1,1.035)" font-size="47" fill="#000" text-anchor="middle">2000</text>
<text transform="translate(59,811) rotate(-90)" font-size="47">Absorbance (arb.units)</text>
<text transform="translate(708.5,1310.7)" font-size="47" fill="#000">Wavenumber (cm<tspan font-size="27" dx="-0.5" dy="-23.5">-1</tspan><tspan dx="4.5" dy="23.5">)</tspan></text>
<rect x="1077.6" y="85.5" width="518.4" height="123" fill="none" stroke="#000" stroke-width="1.6"/>
<line x1="1085" y1="118" x2="1190.5" y2="118" stroke="#000" stroke-width="8" stroke-linecap="round"/>
<line x1="1085" y1="176" x2="1190.5" y2="176" stroke="#f00" stroke-width="8" stroke-linecap="round"/>
<text transform="translate(1202.0,134.0) scale(1,1.01)" font-size="47.4" fill="#000">PTFE-like material</text>
<text transform="translate(1202.0,191.8) scale(1,1.01)" font-size="47.4" fill="#000">PTFE target</text>
<text transform="translate(738.3,220.7) scale(1,1.035)" font-size="42" fill="#f00">CF<tspan font-size="25" dx="-1.2" dy="15">2</tspan></text>
<text transform="translate(833.0,218.0) scale(1,1.035)" font-size="42" fill="#000">CF<tspan font-size="25" dx="-1.2" dy="15">3</tspan></text>
<text transform="translate(804.7,511.7) scale(1,1.035)" font-size="42" fill="#f00">CF<tspan font-size="25" dx="-1.2" dy="15">2</tspan></text>
<text transform="translate(580.8,1083.1) scale(1,1.035)" font-size="42" fill="#000">CF<tspan font-size="25" dx="-1.2" dy="15">3</tspan></text>
<text transform="translate(1223.0,960.1) scale(1,1.035)" font-size="42" fill="#000">C=CF<tspan font-size="25" dx="-1.2" dy="15">2</tspan></text>
<text transform="translate(1223.0,1023.0) scale(1,1.035)" font-size="42" fill="#000">CF=CF<tspan font-size="25" dx="-1.2" dy="15">2</tspan></text>
<text transform="translate(1005.5,976.0) scale(1,1.035)" font-size="42" fill="#000">CF</text>
<text transform="translate(344.5,977.5)" font-size="34" fill="#000">Amorphous</text>
<text transform="translate(354.5,1018.5) scale(1,1.035)" font-size="34" fill="#000">PTFE</text>
<text transform="translate(344.2,1060.1) scale(1,1.035)" font-size="34" fill="#000">CF=O</text>
<text transform="translate(237.0,866.3)" font-size="34" fill="#f00">Dextrorotatory, levorotatory</text>
<text transform="translate(247.5,907.7)" font-size="34" fill="#f00">in PTFE structure</text>
<g stroke="#000" stroke-width="2.0" stroke-dasharray="3 6.07" stroke-dashoffset="1.97" fill="none">
<line x1="284.6" y1="48.4" x2="284.6" y2="1149.8"/>
<line x1="380.0" y1="48.4" x2="380.0" y2="1149.8"/>
<line x1="609.6" y1="48.4" x2="609.6" y2="1149.8"/>
<line x1="773.8" y1="48.4" x2="773.8" y2="1149.8"/>
<line x1="825.2" y1="48.4" x2="825.2" y2="1149.8"/>
<line x1="852.9" y1="48.4" x2="852.9" y2="1149.8"/>
<line x1="989.1" y1="48.4" x2="989.1" y2="1149.8"/>
<line x1="1328.9" y1="48.4" x2="1328.9" y2="1149.8"/>
</g>
</svg></body></html>
